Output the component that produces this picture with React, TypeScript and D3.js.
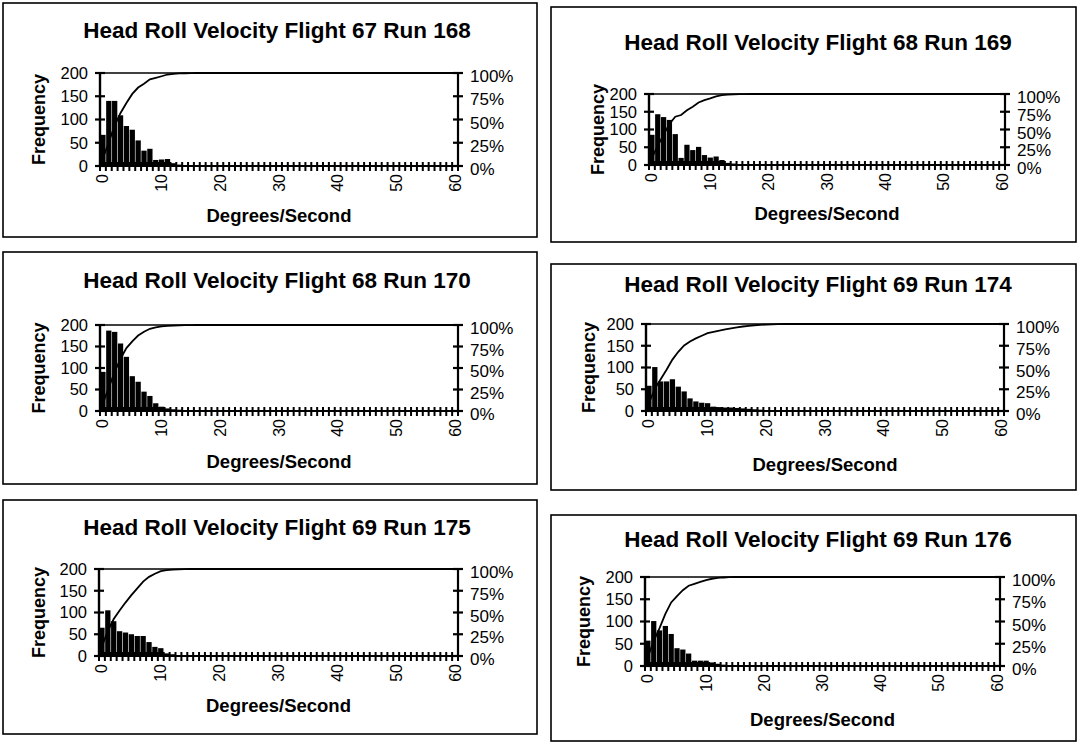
import React from 'react';
import * as d3 from 'd3';

// ---------- data ----------
const bins: number[] = d3.range(0, 61); // Degrees/Second categories 0..60

const titles = [
  'Head Roll Velocity Flight 67 Run 168',
  'Head Roll Velocity Flight 68 Run 169',
  'Head Roll Velocity Flight 68 Run 170',
  'Head Roll Velocity Flight 69 Run 174',
  'Head Roll Velocity Flight 69 Run 175',
  'Head Roll Velocity Flight 69 Run 176',
];

const freqRun168 = [67, 140, 140, 109, 86, 78, 55, 33, 37, 13, 14, 15, 6, 3, 2, 1, 1, 0, 0, 0,
  0, 0, 0, 0, 0, 0, 0, 0, 0, 0, 0, 0, 0, 0, 0, 0, 0, 0, 0, 0,
  0, 0, 0, 0, 0, 0, 0, 0, 0, 0, 0, 0, 0, 0, 0, 0, 0, 0, 0, 0, 0];
const freqRun169 = [85, 143, 135, 127, 87, 20, 57, 42, 51, 28, 21, 24, 14, 6, 4, 2, 1, 1, 0, 0,
  0, 0, 0, 0, 0, 0, 0, 0, 0, 0, 0, 0, 0, 0, 0, 0, 0, 0, 0, 0,
  0, 0, 0, 0, 0, 0, 0, 0, 0, 0, 0, 0, 0, 0, 0, 0, 0, 0, 0, 0, 0];
const freqRun170 = [91, 187, 184, 157, 126, 81, 68, 45, 35, 18, 10, 6, 4, 3, 2, 1, 1, 0, 0, 0,
  0, 0, 0, 0, 0, 0, 0, 0, 0, 0, 0, 0, 0, 0, 0, 0, 0, 0, 0, 0,
  0, 0, 0, 0, 0, 0, 0, 0, 0, 0, 0, 0, 0, 0, 0, 0, 0, 0, 0, 0, 0];
const freqRun174 = [58, 101, 68, 68, 73, 56, 45, 29, 22, 19, 18, 10, 9, 8, 8, 7, 6, 5, 4, 3,
  2, 2, 1, 1, 0, 0, 0, 0, 0, 0, 0, 0, 0, 0, 0, 0, 0, 0, 0, 0,
  0, 0, 0, 0, 0, 0, 0, 0, 0, 0, 0, 0, 0, 0, 0, 0, 0, 0, 0, 0, 0];
const freqRun175 = [65, 105, 80, 57, 54, 50, 46, 46, 32, 21, 18, 6, 4, 2, 1, 1, 0, 0, 0, 0,
  0, 0, 0, 0, 0, 0, 0, 0, 0, 0, 0, 0, 0, 0, 0, 0, 0, 0, 0, 0,
  0, 0, 0, 0, 0, 0, 0, 0, 0, 0, 0, 0, 0, 0, 0, 0, 0, 0, 0, 0, 0];
const freqRun176 = [57, 101, 80, 90, 72, 40, 37, 28, 12, 12, 12, 8, 5, 3, 2, 1, 0, 0, 0, 0,
  0, 0, 0, 0, 0, 0, 0, 0, 0, 0, 0, 0, 0, 0, 0, 0, 0, 0, 0, 0,
  0, 0, 0, 0, 0, 0, 0, 0, 0, 0, 0, 0, 0, 0, 0, 0, 0, 0, 0, 0, 0];

const series = [freqRun168, freqRun169, freqRun170, freqRun174, freqRun175, freqRun176];

const leftTicks = [0, 50, 100, 150, 200];
const rightTicks = [0, 0.25, 0.5, 0.75, 1];
const rightTickLabels = ['0%', '25%', '50%', '75%', '100%'];
const xLabelBins = [0, 10, 20, 30, 40, 50, 60];

// ---------- layout ----------
type Layout = {
  box: [number, number, number, number];
  l: number; r: number; t: number; b: number;
  titleX: number; titleY: number; xTitleY: number; freqX: number;
};
const layouts: Layout[] = [
  { box: [3, 3, 537, 237], l: 100, r: 458, t: 73, b: 166, titleX: 277, titleY: 38, xTitleY: 222, freqX: 45 },
  { box: [551, 7, 1076, 242], l: 649, r: 1005, t: 94, b: 165, titleX: 818, titleY: 50, xTitleY: 220, freqX: 604 },
  { box: [3, 252, 537, 484], l: 100, r: 458, t: 325, b: 411, titleX: 277, titleY: 288, xTitleY: 468, freqX: 45 },
  { box: [551, 264, 1076, 490], l: 646, r: 1004, t: 324, b: 411, titleX: 818, titleY: 292, xTitleY: 471, freqX: 595 },
  { box: [3, 500, 537, 734], l: 99, r: 458, t: 569, b: 656, titleX: 277, titleY: 535, xTitleY: 712, freqX: 45 },
  { box: [551, 515, 1076, 741], l: 645, r: 1000, t: 577, b: 666, titleX: 818, titleY: 547, xTitleY: 726, freqX: 590 },
];

const FONT = "'Liberation Sans', Arial, Helvetica, sans-serif";

function Panel({ data, title, lay }: { data: number[]; title: string; lay: Layout }) {
  const x = d3.scaleBand<number>().domain(bins).range([lay.l, lay.r]).paddingInner(0.1).paddingOuter(0.05);
  const step = x.step();
  const y = d3.scaleLinear().domain([0, 200]).range([lay.b, lay.t]);
  const total = d3.sum(data);
  const cum = Array.from(d3.cumsum(data)).map((v) => v / total);
  const yp = d3.scaleLinear().domain([0, 1]).range([lay.b, lay.t]);
  const line = d3.line<number>()
    .x((_, i) => (x(bins[i]) as number) + x.bandwidth() / 2)
    .y((d) => yp(d));
  const [bx0, by0, bx1, by1] = lay.box;
  const x0 = (x(bins[0]) as number) - (step * x.paddingInner()) / 2;
  const boundaries = d3.range(0, bins.length + 1).map((i) => x0 + i * step);
  return (
    <g>
      <rect x={bx0} y={by0} width={bx1 - bx0} height={by1 - by0} fill="white" stroke="black" strokeWidth={1.6} />
      <text x={lay.titleX} y={lay.titleY} textAnchor="middle" fontFamily={FONT} fontWeight="bold" fontSize={22.5}>{title}</text>
      {/* bars */}
      {data.map((v, i) => (
        <rect key={i} x={x(bins[i])} y={y(v)} width={x.bandwidth()} height={lay.b - y(v)} fill="black" />
      ))}
      {/* top border */}
      <line x1={lay.l} x2={lay.r} y1={lay.t} y2={lay.t} stroke="black" strokeWidth={1.6} />
      {/* cumulative line */}
      <path d={line(cum) || ''} fill="none" stroke="black" strokeWidth={1.8} />
      {/* x axis with ticks */}
      <line x1={lay.l} x2={lay.r} y1={lay.b} y2={lay.b} stroke="black" strokeWidth={2.2} />
      {boundaries.map((bx, i) => (
        <line key={i} x1={bx} x2={bx} y1={lay.b - 4} y2={lay.b + 5} stroke="black" strokeWidth={2} />
      ))}
      {xLabelBins.map((v) => {
        const cx = (x(v) as number) + x.bandwidth() / 2;
        const ty = lay.b + 8;
        return (
          <text key={v} transform={`translate(${cx + 5.5},${ty}) rotate(-90)`} textAnchor="end" fontFamily={FONT} fontSize={16}>{v}</text>
        );
      })}
      {/* left axis */}
      <line x1={lay.l} x2={lay.l} y1={lay.b} y2={lay.t} stroke="black" strokeWidth={2.4} />
      {leftTicks.map((v) => (
        <g key={v}>
          <line x1={lay.l - 5} x2={lay.l + 5} y1={y(v)} y2={y(v)} stroke="black" strokeWidth={2.2} />
          <text x={lay.l - 12} y={y(v)} dy="0.36em" textAnchor="end" fontFamily={FONT} fontSize={16.5}>{v}</text>
        </g>
      ))}
      <text transform={`translate(${lay.freqX},${(lay.t + lay.b) / 2}) rotate(-90)`} textAnchor="middle" fontFamily={FONT} fontWeight="bold" fontSize={18}>Frequency</text>
      {/* right axis */}
      <line x1={lay.r} x2={lay.r} y1={lay.b} y2={lay.t} stroke="black" strokeWidth={2.2} />
      {rightTicks.map((v, i) => (
        <g key={v}>
          <line x1={lay.r - 5} x2={lay.r + 5} y1={yp(v)} y2={yp(v)} stroke="black" strokeWidth={2.2} />
          <text x={lay.r + 12} y={yp(v) + 3} dy="0.36em" fontFamily={FONT} fontSize={17}>{rightTickLabels[i]}</text>
        </g>
      ))}
      <text x={(lay.l + lay.r) / 2} y={lay.xTitleY} textAnchor="middle" fontFamily={FONT} fontWeight="bold" fontSize={18.5}>Degrees/Second</text>
    </g>
  );
}

export default function App() {
  return (
    <svg width={1081} height={744} style={{ position: 'absolute', left: 0, top: 0, background: 'white' }}>
      <rect x={0} y={0} width={1081} height={744} fill="white" />
      {series.map((s, i) => (
        <Panel key={i} data={s} title={titles[i]} lay={layouts[i]} />
      ))}
    </svg>
  );
}
